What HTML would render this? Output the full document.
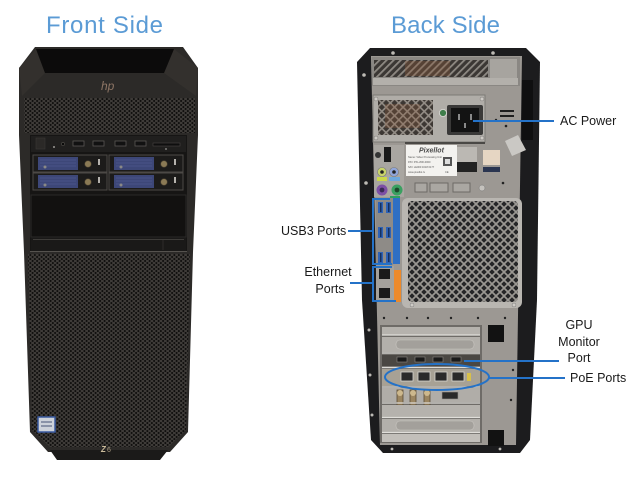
<!DOCTYPE html>
<html><head><meta charset="utf-8"><style>
html,body{margin:0;padding:0;background:#fff;}
svg{display:block;}
text{font-family:"Liberation Sans",Arial,sans-serif;}
</style></head><body>
<svg width="634" height="478" viewBox="0 0 634 478" xmlns="http://www.w3.org/2000/svg">
<defs>
<pattern id="dots" width="4.5" height="4" patternUnits="userSpaceOnUse">
<rect width="4.5" height="4" fill="#3e3b38"/>
<circle cx="1.1" cy="1" r="1.05" fill="#0f0e0d"/>
<circle cx="3.35" cy="3" r="1.05" fill="#0f0e0d"/>
</pattern>
<pattern id="mesh" width="8" height="8" patternUnits="userSpaceOnUse">
<rect width="8" height="8" fill="#252527"/>
<path d="M0,0 L8,8 M8,0 L0,8" stroke="#9a9792" stroke-width="1.7"/>
</pattern>
<pattern id="hatch" width="5" height="5" patternUnits="userSpaceOnUse" patternTransform="rotate(45)">
<rect width="5" height="5" fill="#3b3734"/>
<rect width="1.8" height="5" fill="#8e8983"/>
</pattern>
<pattern id="hatch2" width="6" height="6" patternUnits="userSpaceOnUse" patternTransform="rotate(45)">
<rect width="6" height="6" fill="#3c3733"/>
<rect width="1.6" height="6" fill="#938d86"/>
<rect width="6" height="1.6" fill="#938d86"/>
</pattern>
</defs>

<rect width="634" height="478" fill="#fff"/>

<!-- Titles -->
<text x="46" y="33" font-size="24" fill="#5b9bd5" textLength="117" lengthAdjust="spacing">Front Side</text>
<text x="391" y="33" font-size="24" fill="#5b9bd5" textLength="109" lengthAdjust="spacing">Back Side</text>

<!-- ================= FRONT TOWER ================= -->
<polygon points="35,47 183,47 198,68 198,135 193,252 188,432 170,452 48,452 30,432 24,252 19,135 19,68" fill="#2c2a28"/>
<polygon points="50,450 168,450 160,460 57,460" fill="#1b1a19"/>
<polygon points="19,68 36,49 45,73 22,96" fill="#33302d"/>
<polygon points="198,68 174,49 164,73 196,96" fill="#33302d"/>
<polygon points="36,49 174,49 164,73 45,73" fill="#0c0b0b"/>
<text x="101" y="90" font-size="12" font-style="italic" fill="#8d7565">hp</text>
<rect x="24" y="98" width="171" height="35" fill="url(#dots)"/>
<rect x="30" y="135" width="157" height="117" fill="#161514"/>
<rect x="31" y="136" width="155" height="16" fill="#201f1e"/>
<rect x="36" y="138" width="9" height="11" fill="#2b2927" stroke="#3a3836" stroke-width="0.6"/>
<circle cx="54" cy="147" r="1" fill="#9a9894"/>
<circle cx="63" cy="144" r="1.6" fill="#0a0a0a" stroke="#55524e" stroke-width="0.6"/>
<rect x="73" y="141" width="11" height="5" fill="#111" stroke="#5a5754" stroke-width="0.8"/>
<rect x="93" y="141" width="11" height="5" fill="#111" stroke="#5a5754" stroke-width="0.8"/>
<rect x="115" y="141" width="11" height="5" fill="#111" stroke="#5a5754" stroke-width="0.8"/>
<rect x="135" y="141" width="11" height="5" fill="#111" stroke="#5a5754" stroke-width="0.8"/>
<rect x="153" y="143" width="27" height="3" fill="#0e0e0e" stroke="#4a4744" stroke-width="0.6"/>
<circle cx="166" cy="149" r="0.9" fill="#9a9894"/>
<g stroke="#4c4946" stroke-width="1">
<rect x="33" y="155" width="74" height="17" fill="#1c1b1a"/>
<rect x="109" y="155" width="74" height="17" fill="#1c1b1a"/>
<rect x="33" y="173" width="74" height="17" fill="#1c1b1a"/>
<rect x="109" y="173" width="74" height="17" fill="#1c1b1a"/>
</g>
<g fill="#3d4778">
<rect x="38" y="157" width="40" height="13"/>
<rect x="114" y="157" width="40" height="13"/>
<rect x="38" y="175" width="40" height="13"/>
<rect x="114" y="175" width="40" height="13"/>
</g>
<g stroke="#56609a" stroke-width="0.6">
<path d="M40,160h36M40,163h36M40,166h36M116,160h36M116,163h36M116,166h36M40,178h36M40,181h36M40,184h36M116,178h36M116,181h36M116,184h36"/>
</g>
<g fill="#8a8986"><circle cx="45" cy="167" r="1.5"/><circle cx="121" cy="167" r="1.5"/><circle cx="45" cy="185" r="1.5"/><circle cx="121" cy="185" r="1.5"/></g>
<g fill="#8b7a55" stroke="#4a4030" stroke-width="0.6">
<circle cx="88" cy="164" r="3.3"/><circle cx="164" cy="164" r="3.3"/><circle cx="88" cy="182" r="3.3"/><circle cx="164" cy="182" r="3.3"/>
</g>
<g fill="#b5b2ad"><rect x="98" y="159" width="2" height="6"/><rect x="174" y="159" width="2" height="6"/><rect x="98" y="177" width="2" height="6"/><rect x="174" y="177" width="2" height="6"/></g>
<rect x="31" y="195" width="155" height="42" fill="#121110" stroke="#2b2927" stroke-width="1"/>
<rect x="31" y="238" width="155" height="13" fill="#1a1918"/>
<line x1="33" y1="239.5" x2="184" y2="239.5" stroke="#3e3c39" stroke-width="1"/>
<line x1="163" y1="240" x2="163" y2="250" stroke="#2e2c2a" stroke-width="1"/>
<line x1="30" y1="251.5" x2="187" y2="251.5" stroke="#55524e" stroke-width="1"/>
<polygon points="28,254 190,254 186,430 168,447 50,447 32,430" fill="url(#dots)"/>
<rect x="38" y="417" width="17" height="15" fill="#cdd2da" stroke="#3a5aa0" stroke-width="1.5"/>
<rect x="41" y="421" width="11" height="2" fill="#8a93a8"/>
<rect x="41" y="425" width="11" height="2" fill="#8a93a8"/>
<text x="101" y="452" font-size="8" font-weight="bold" font-style="italic" fill="#cbbb9b">Z</text>
<text x="107" y="452" font-size="7" fill="#a89a80">6</text>

<!-- ================= BACK TOWER ================= -->
<polygon points="370,48 526,48 540,62 537,300 530,440 520,453 383,453 371,440 362,300 357,62" fill="#1c1c1e"/>
<polygon points="371,56 522,56 516,445 380,445" fill="#9c9893"/>
<g fill="#bdbab5"><circle cx="364" cy="75" r="1.8"/><circle cx="366" cy="183" r="1.8"/><circle cx="369" cy="330" r="1.5"/><circle cx="370" cy="375" r="1.5"/><circle cx="372" cy="415" r="1.5"/><circle cx="393" cy="53" r="1.8"/><circle cx="493" cy="53" r="1.8"/><circle cx="392" cy="449" r="1.4"/><circle cx="500" cy="449" r="1.4"/></g>
<rect x="372" y="57" width="148" height="29" fill="#8a8783"/>
<rect x="374" y="60" width="114" height="17" fill="url(#hatch)"/>
<rect x="405" y="61" width="45" height="15" fill="#8a5a3a" opacity="0.35"/>
<rect x="373" y="78" width="145" height="7" fill="#b3b0ab"/>
<rect x="490" y="59" width="27" height="19" fill="#a7a49f"/>
<rect x="522" y="80" width="11" height="60" fill="#0f0f10"/>
<rect x="373" y="95" width="112" height="47" fill="#b0ada8" stroke="#7d7a76" stroke-width="1"/>
<rect x="378" y="100" width="55" height="35" fill="url(#hatch2)"/>
<rect x="385" y="104" width="35" height="24" fill="#8a5a3a" opacity="0.3"/>
<rect x="447" y="105" width="36" height="30" fill="#3a3938" rx="2"/>
<rect x="451" y="108" width="28" height="24" fill="#131313"/>
<rect x="458" y="114" width="2" height="6" fill="#8a8a8a"/>
<rect x="470" y="114" width="2" height="6" fill="#8a8a8a"/>
<rect x="464" y="123" width="2" height="5" fill="#8a8a8a"/>
<circle cx="443" cy="113" r="3.6" fill="#3f7d4a" stroke="#d4d2ce" stroke-width="1"/>
<g fill="#cfccc7" stroke="#7a7773" stroke-width="0.5"><circle cx="376" cy="99" r="2"/><circle cx="482" cy="99" r="2"/><circle cx="376" cy="138" r="2"/><circle cx="482" cy="138" r="2"/></g>
<rect x="500" y="110" width="14" height="2" fill="#1e1e1e"/>
<rect x="500" y="115" width="14" height="2" fill="#1e1e1e"/>
<circle cx="506" cy="126" r="1.3" fill="#222"/>
<circle cx="496" cy="120" r="1.2" fill="#222"/>
<polygon points="505,141 518,135 526,150 512,156" fill="#cac8c4"/>
<rect x="405" y="142" width="80" height="2" fill="#4a4845"/>
<rect x="374" y="145" width="30" height="52" fill="#a9a6a1"/>
<rect x="384" y="147" width="7" height="15" fill="#1a1a1a"/>
<circle cx="378" cy="155" r="3" fill="#333"/>
<circle cx="382" cy="172" r="4.5" fill="#c8d36a" stroke="#777" stroke-width="0.6"/>
<circle cx="382" cy="172" r="1.8" fill="#222"/>
<circle cx="394" cy="172" r="4.5" fill="#90a5d9" stroke="#777" stroke-width="0.6"/>
<circle cx="394" cy="172" r="1.8" fill="#222"/>
<rect x="377" y="177" width="10" height="4" fill="#cbd84a"/>
<rect x="389" y="177" width="11" height="4" fill="#6ea8dc"/>
<circle cx="382" cy="190" r="5.5" fill="#7d4fa5"/>
<circle cx="382" cy="190" r="2.4" fill="#3a2a55"/>
<circle cx="397" cy="190" r="5.5" fill="#3aa060"/>
<circle cx="397" cy="190" r="2.4" fill="#1d4a2c"/>
<rect x="390" y="196" width="10" height="3" fill="#2fa060"/>
<rect x="406" y="145" width="51" height="31" fill="#f3f2ef"/>
<text x="419" y="152.5" font-size="7" font-weight="bold" font-style="italic" fill="#4a4a4a">Pixellot</text>
<text x="408" y="158" font-size="2.6" fill="#555">Name: Video Processing Unit</text>
<text x="408" y="163" font-size="2.6" fill="#555">P/N:  PXL-800-0000</text>
<text x="408" y="168" font-size="2.6" fill="#555">S/N:  LE000 1618 0177</text>
<text x="408" y="173" font-size="2.6" fill="#555">www.pixellot.tv</text>
<rect x="443" y="157" width="9" height="9" fill="#555"/>
<rect x="445" y="159" width="5" height="5" fill="#ddd"/>
<text x="445" y="173" font-size="2.6" fill="#555">CE</text>
<rect x="457" y="147" width="20" height="15" fill="#bbb8b3"/>
<rect x="457" y="162" width="20" height="10" fill="#222"/>
<rect x="483" y="150" width="17" height="15" fill="#e6d6c3"/>
<rect x="483" y="167" width="17" height="5" fill="#2a3550"/>
<rect x="415" y="183" width="12" height="9" fill="#aaa7a2" stroke="#6d6a66" stroke-width="1"/>
<rect x="430" y="183" width="18" height="9" fill="#aaa7a2" stroke="#6d6a66" stroke-width="1"/>
<rect x="453" y="183" width="17" height="9" fill="#aaa7a2" stroke="#6d6a66" stroke-width="1"/>
<circle cx="482" cy="188" r="3" fill="#c5c2bd" stroke="#777" stroke-width="0.5"/>
<circle cx="503" cy="183" r="1.3" fill="#222"/>
<rect x="376" y="198" width="17" height="67" fill="#8e8b87"/>
<g fill="#2f62b5"><rect x="378" y="202" width="5" height="11"/><rect x="386" y="202" width="5" height="11"/><rect x="378" y="227" width="5" height="11"/><rect x="386" y="227" width="5" height="11"/><rect x="378" y="252" width="5" height="11"/><rect x="386" y="252" width="5" height="11"/></g>
<g fill="#16305e"><rect x="380" y="203" width="1.5" height="9"/><rect x="388" y="203" width="1.5" height="9"/><rect x="380" y="228" width="1.5" height="9"/><rect x="388" y="228" width="1.5" height="9"/><rect x="380" y="253" width="1.5" height="9"/><rect x="388" y="253" width="1.5" height="9"/></g>
<rect x="393" y="198" width="7" height="66" fill="#2e6fc4"/>
<rect x="376" y="266" width="18" height="36" fill="#a4a19c"/>
<rect x="379" y="269" width="11" height="10" fill="#1a1a1a"/>
<rect x="379" y="288" width="11" height="10" fill="#1a1a1a"/>
<rect x="394" y="270" width="7" height="32" fill="#ec8a2c"/>
<rect x="402" y="198" width="120" height="110" rx="6" fill="#b9b6b1"/>
<rect x="408" y="201" width="110" height="101" rx="4" fill="url(#mesh)"/>
<g fill="#cfccc7" stroke="#777" stroke-width="0.5"><circle cx="412" cy="305" r="2"/><circle cx="514" cy="305" r="2"/></g>
<g fill="#222"><circle cx="384" cy="318" r="1.2"/><circle cx="407" cy="318" r="1.2"/><circle cx="428" cy="318" r="1.2"/><circle cx="451" cy="318" r="1.2"/><circle cx="478" cy="318" r="1.2"/><circle cx="505" cy="318" r="1.2"/><circle cx="511" cy="400" r="1.2"/><circle cx="513" cy="370" r="1.2"/></g>
<rect x="380" y="325" width="102" height="118" fill="#6e6b67"/>
<rect x="382" y="327" width="98" height="8" fill="#b5b2ad"/>
<line x1="382" y1="335" x2="480" y2="335" stroke="#e0deda" stroke-width="1.2"/>
<rect x="382" y="337" width="98" height="15" fill="#b3b0ab"/>
<rect x="396" y="340" width="78" height="9" rx="4" fill="#a3a09b" stroke="#c9c6c1" stroke-width="0.6"/>
<line x1="382" y1="353" x2="480" y2="353" stroke="#e0deda" stroke-width="1.2"/>
<rect x="382" y="355" width="98" height="11" fill="#4a4743"/>
<g fill="#1a1a1a" stroke="#8a8782" stroke-width="0.6"><rect x="397" y="357" width="10" height="5"/><rect x="415" y="357" width="10" height="5"/><rect x="433" y="357" width="10" height="5"/><rect x="451" y="357" width="10" height="5"/></g>
<line x1="382" y1="367.5" x2="480" y2="367.5" stroke="#dcdad6" stroke-width="1.2"/>
<rect x="382" y="369" width="98" height="17" fill="#a7a195"/>
<g fill="#2a2a2a" stroke="#d8d5d0" stroke-width="0.8"><rect x="401" y="372" width="12" height="9"/><rect x="418" y="372" width="12" height="9"/><rect x="435" y="372" width="12" height="9"/><rect x="452" y="372" width="12" height="9"/></g>
<rect x="467" y="373" width="4" height="8" fill="#d8c04a"/>
<line x1="382" y1="387" x2="480" y2="387" stroke="#dcdad6" stroke-width="1.2"/>
<rect x="382" y="388" width="98" height="14" fill="#b0ada8"/>
<g fill="#9b8560" stroke="#5a4c36" stroke-width="0.8"><rect x="397" y="390" width="6" height="15"/><rect x="410" y="390" width="6" height="15"/><rect x="424" y="390" width="6" height="15"/></g>
<g fill="#cdb88d"><circle cx="400" cy="393" r="3"/><circle cx="413" cy="393" r="3"/><circle cx="427" cy="393" r="3"/></g>
<rect x="442" y="392" width="16" height="7" fill="#2a2a2a" stroke="#9a9792" stroke-width="0.6"/>
<line x1="382" y1="403" x2="480" y2="403" stroke="#dcdad6" stroke-width="1.2"/>
<rect x="382" y="405" width="98" height="12" fill="#b5b2ad"/>
<line x1="382" y1="417.5" x2="480" y2="417.5" stroke="#e0deda" stroke-width="1.2"/>
<rect x="382" y="419" width="98" height="13" fill="#b3b0ab"/>
<rect x="396" y="421" width="78" height="9" rx="4" fill="#a3a09b" stroke="#c9c6c1" stroke-width="0.6"/>
<line x1="382" y1="432.5" x2="480" y2="432.5" stroke="#e0deda" stroke-width="1.2"/>
<rect x="382" y="434" width="98" height="8" fill="#c2bfba"/>
<rect x="488" y="325" width="16" height="17" fill="#121212"/>
<rect x="488" y="430" width="16" height="16" fill="#121212"/>

<!-- ================= ANNOTATIONS ================= -->
<g stroke="#2472c8" stroke-width="2" fill="none">
<line x1="473" y1="121" x2="554" y2="121"/>
<line x1="348" y1="231" x2="373" y2="231"/>
<polyline points="390,199 373,199 373,264 392,264"/>
<line x1="350" y1="283" x2="373" y2="283"/>
<polyline points="392,267 373,267 373,301 396,301"/>
<line x1="464" y1="361" x2="559" y2="361"/>
<ellipse cx="437" cy="377" rx="52" ry="13"/>
<line x1="489" y1="378" x2="565" y2="378"/>
</g>

<g font-size="12.5" fill="#1a1a1a">
<text x="560" y="125">AC Power</text>
<text x="281" y="235">USB3 Ports</text>
<text x="328" y="276" text-anchor="middle">Ethernet</text>
<text x="330" y="293" text-anchor="middle">Ports</text>
<text x="579" y="329" text-anchor="middle">GPU</text>
<text x="579" y="346" text-anchor="middle">Monitor</text>
<text x="579" y="362" text-anchor="middle">Port</text>
<text x="570" y="382">PoE Ports</text>
</g>
</svg>
</body></html>
